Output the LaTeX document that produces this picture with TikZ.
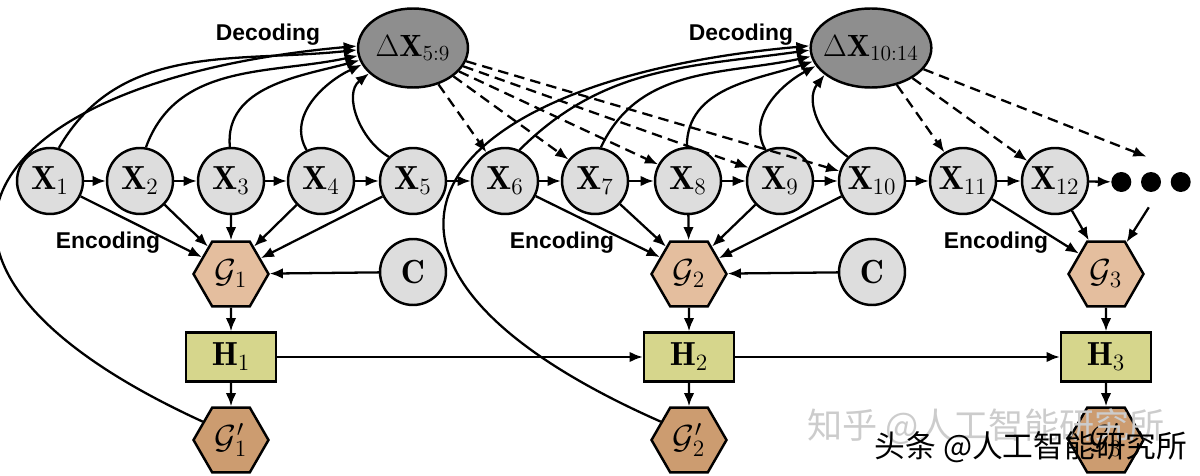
\RequirePackage{fix-cm}
\documentclass[tikz,border=0pt]{standalone}
\usepackage{amsmath,amssymb}
\usepackage{fontspec}
\setsansfont{Liberation Sans}
\newfontfamily\cjkfont{Noto Sans CJK SC}
\usepackage{tikz}
\usetikzlibrary{shapes,arrows.meta,positioning,calc}

\definecolor{obsgray}{RGB}{221,221,221}
\definecolor{deltagray}{RGB}{142,142,142}
\definecolor{graphtan}{RGB}{228,190,158}
\definecolor{recontan}{RGB}{204,156,112}
\definecolor{hiddenolive}{RGB}{214,214,140}

\begin{document}
\begin{tikzpicture}[
        x=0.02cm, y=0.02cm,
        font=\fontsize{19}{22}\selectfont,
        >={Latex[length=7.5pt,width=6pt]},
        % Node styles
        obs/.style={
            circle,
            draw=black,
            line width=1.4pt,
            minimum size=1.32cm,
            inner sep=0pt,
            fill=obsgray
        },
        delta/.style={
            ellipse,
            draw=black,
            line width=1.4pt,
            minimum width=2.2cm,
            minimum height=1.58cm,
            inner sep=-3pt,
            font=\fontsize{17.5}{20}\selectfont,
            fill=deltagray
        },
        hexa/.style={
            regular polygon,
            regular polygon sides=6,
            draw=black,
            line width=1.4pt,
            minimum size=1.5cm,
            inner sep=0pt,
            fill=#1
        },
        hbox/.style={
            rectangle,
            draw=black,
            line width=1.4pt,
            minimum width=1.8cm,
            minimum height=0.98cm,
            inner sep=0pt,
            fill=hiddenolive
        },
        dotnode/.style={circle, fill=black, minimum size=0.4cm, inner sep=0pt},
        arrow/.style={->, line width=1.3pt},
        dashedarrow/.style={->, line width=1.3pt, dash pattern=on 6pt off 3.5pt},
        phase/.style={font=\sffamily\bfseries\fontsize{13}{15}\selectfont}
    ]

    \useasboundingbox (0,0) rectangle (1200,-476);

    % Observed sequence
    \node[obs] (x1) at (50,-181) {$\mathbf{X}_1$};
    \node[obs] (x2) at (140,-181) {$\mathbf{X}_2$};
    \node[obs] (x3) at (231,-181) {$\mathbf{X}_3$};
    \node[obs] (x4) at (321,-181) {$\mathbf{X}_4$};
    \node[obs] (x5) at (413,-181) {$\mathbf{X}_5$};
    \node[obs] (x6) at (505,-181) {$\mathbf{X}_6$};
    \node[obs] (x7) at (595,-181) {$\mathbf{X}_7$};
    \node[obs] (x8) at (688,-181) {$\mathbf{X}_8$};
    \node[obs] (x9) at (780,-181) {$\mathbf{X}_9$};
    \node[obs] (x10) at (872,-181) {$\mathbf{X}_{10}$};
    \node[obs] (x11) at (963,-181) {$\mathbf{X}_{11}$};
    \node[obs] (x12) at (1055,-181) {$\mathbf{X}_{12}$};

    % Trailing dots
    \node[minimum width=1.6cm, minimum height=1cm, inner sep=0pt] (dots) at (1151,-182) {};
    \node[dotnode] (dot2) at (dots.center) {};
    \node[dotnode, left=0.18cm of dot2] (dot1) {};
    \node[dotnode, right=0.18cm of dot2] (dot3) {};

    % Predicted increments
    \node[delta] (dx1) at (413,-48) {$\Delta\mathbf{X}_{5:9}$};
    \node[delta] (dx2) at (871,-48) {$\Delta\mathbf{X}_{10:14}$};
    \node[phase] (dec1) at (268,-35) {Decoding};
    \node[phase] (dec2) at (741,-35) {Decoding};

    % Graphs, context and hidden states
    \node[hexa=graphtan] (g1) at (231,-274) {$\mathcal{G}_1$};
    \node[hexa=graphtan] (g2) at (689,-274) {$\mathcal{G}_2$};
    \node[hexa=graphtan] (g3) at (1106,-274) {$\mathcal{G}_3$};
    \node[phase] (enc1) at (108,-243) {Encoding};
    \node[phase] (enc2) at (562,-243) {Encoding};
    \node[phase] (enc3) at (996,-243) {Encoding};

    \node[obs] (c1) at (413,-272) {$\mathbf{C}$};
    \node[obs] (c2) at (872,-272) {$\mathbf{C}$};

    \node[hbox] (h1) at (231,-357) {$\mathbf{H}_1$};
    \node[hbox] (h2) at (689,-357) {$\mathbf{H}_2$};
    \node[hbox] (h3) at (1106,-357) {$\mathbf{H}_3$};

    \node[hexa=recontan] (g1p) at (231,-440) {$\mathcal{G}'_1$};
    \node[hexa=recontan] (g2p) at (689,-440) {$\mathcal{G}'_2$};
    \node[hexa=recontan] (g3p) at (1106,-440) {$\mathcal{G}'_3$};

    % Chain
    \draw[arrow] (x1) -- (x2);
    \draw[arrow] (x2) -- (x3);
    \draw[arrow] (x3) -- (x4);
    \draw[arrow] (x4) -- (x5);
    \draw[arrow] (x5) -- (x6);
    \draw[arrow] (x6) -- (x7);
    \draw[arrow] (x7) -- (x8);
    \draw[arrow] (x8) -- (x9);
    \draw[arrow] (x9) -- (x10);
    \draw[arrow] (x10) -- (x11);
    \draw[arrow] (x11) -- (x12);
    \draw[arrow] (x12) -- (dot1);

    % Encoding
    \draw[arrow] (x1) -- (g1.150);
    \draw[arrow] (x2) -- (g1.130);
    \draw[arrow] (x3) -- (g1);
    \draw[arrow] (x4) -- (g1.50);
    \draw[arrow] (x5) -- (g1.28);
    \draw[arrow] (x6) -- (g2.150);
    \draw[arrow] (x7) -- (g2.130);
    \draw[arrow] (x8) -- (g2);
    \draw[arrow] (x9) -- (g2.50);
    \draw[arrow] (x10) -- (g2.28);
    \draw[arrow] (x11) -- (g3.143);
    \draw[arrow] (x12) -- (g3.117);
    \draw[arrow] (dots.-95) -- (g3.57);
    \draw[arrow] (c1) -- (g1);
    \draw[arrow] (c2) -- (g2);

    % Hidden states
    \draw[arrow] (g1) -- (h1);
    \draw[arrow] (g2) -- (h2);
    \draw[arrow] (g3) -- (h3);
    \draw[arrow] (h1) -- (g1p);
    \draw[arrow] (h2) -- (g2p);
    \draw[arrow] (h3) -- (g3p);
    \draw[arrow] (h1) -- (h2);
    \draw[arrow] (h2) -- (h3);

    % Decoding
    \draw[arrow] (x1.75) to[out=60,in=186] (dx1.182);
    \draw[arrow] (x2.80) to[out=70,in=192] (dx1.188);
    \draw[arrow] (x3.92) to[out=95,in=195] (dx1.193);
    \draw[arrow] (x4.115) to[out=120,in=205] (dx1.198);
    \draw[arrow] (x5.135) to[out=150,in=218] (dx1.210);
    \draw[arrow] (g1p.147) .. controls (-150,-260) and (-20,-80) .. (dx1.178);

    \draw[arrow] (x6.65) to[out=45,in=188] (dx2.182);
    \draw[arrow] (x7.80) to[out=65,in=192] (dx2.188);
    \draw[arrow] (x8.92) to[out=90,in=198] (dx2.193);
    \draw[arrow] (x9.115) to[out=120,in=208] (dx2.198);
    \draw[arrow] (x10.135) to[out=145,in=232] (dx2.210);
    \draw[arrow] (g2p.147) .. controls (295,-260) and (425,-80) .. (dx2.178);

    \draw[dashedarrow] (dx1.-55) -- (x6.123);
    \draw[dashedarrow] (dx1.-35) -- (x7.141);
    \draw[dashedarrow] (dx1.-27) -- (x8.151);
    \draw[dashedarrow] (dx1.-20) -- (x9.157);
    \draw[dashedarrow] (dx1.-14) -- (x10.163);
    \draw[dashedarrow] (dx2.-55) -- (x11.123);
    \draw[dashedarrow] (dx2.-36) -- (x12.144);
    \draw[dashedarrow] (dx2.-22) -- (dots.100);

    % Watermarks
    \node[font=\cjkfont\fontsize{20}{20}\selectfont, text=gray!40] (wm1) at (986,-427) {知乎 @人工智能研究所};
    \node[font=\cjkfont\fontsize{17.5}{18}\selectfont] (wm2) at (1031,-447) {头条 @人工智能研究所};

\end{tikzpicture}
\end{document}
